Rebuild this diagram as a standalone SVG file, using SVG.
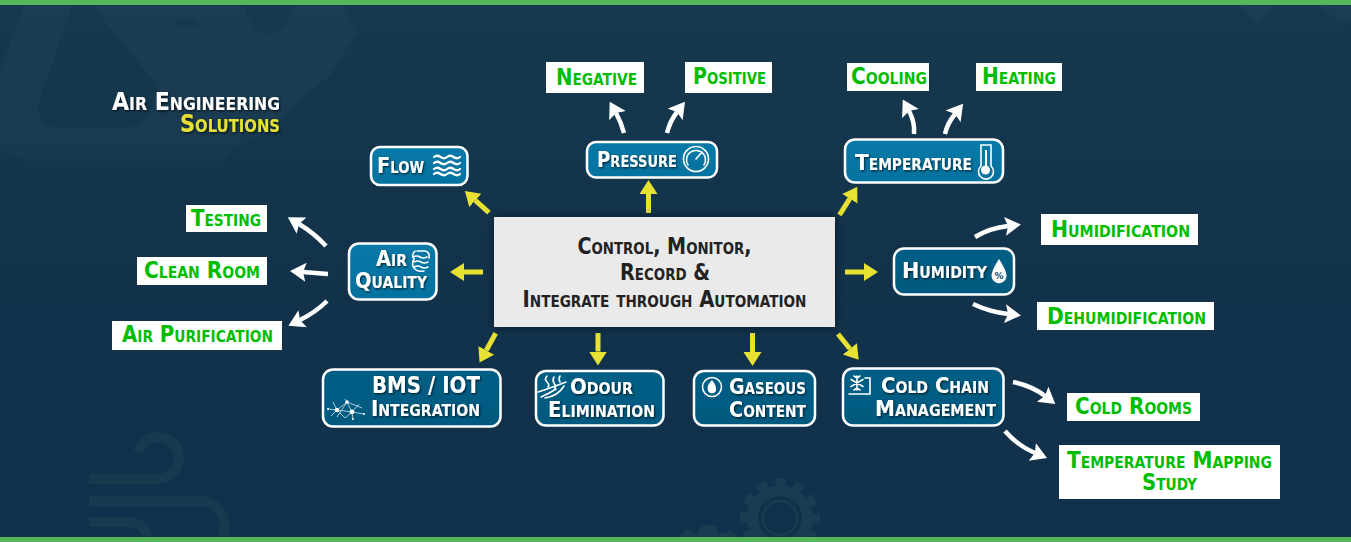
<svg xmlns="http://www.w3.org/2000/svg" width="1351" height="542" viewBox="0 0 1351 542">
<style>
text{font-family:"DejaVu Sans","Noto Sans",sans-serif;font-weight:700;font-variant:small-caps}
.n text{fill:#fff;font-size:21px;filter:url(#ts)}
.box{stroke:#fff;stroke-width:2.5}
.u{fill:url(#up)}.d{fill:url(#dn)}
.lab rect{fill:#fff}
.lab text{fill:#00bd00;font-size:23px}
.y{fill:none;stroke:#e6e132;stroke-width:5;marker-end:url(#hy)}
.w{fill:none;stroke:#fff;stroke-width:4.5;marker-end:url(#hw)}
.ic{fill:none;stroke:#fff;stroke-width:1.6;stroke-linecap:round}
.bg{fill:none;stroke:#19394f;stroke-width:10}
.fa{fill:#fff;fill-opacity:.022}
</style>
<defs>
<linearGradient id="bgg" x1="0" y1="0" x2="0" y2="1"><stop offset="0" stop-color="#16394d"/><stop offset=".45" stop-color="#13334b"/><stop offset="1" stop-color="#10304c"/></linearGradient>
<linearGradient id="up" x1="0" y1="0" x2="0" y2="1"><stop offset="0" stop-color="#0879a8"/><stop offset="1" stop-color="#04729f"/></linearGradient>
<linearGradient id="dn" x1="0" y1="0" x2="0" y2="1"><stop offset="0" stop-color="#005e85"/><stop offset="1" stop-color="#005a80"/></linearGradient>
<filter id="ts" x="-10%" y="-20%" width="120%" height="150%"><feDropShadow dx="1" dy="1.2" stdDeviation="0.8" flood-color="#000" flood-opacity="0.7"/></filter>
<filter id="bs" x="-10%" y="-15%" width="120%" height="130%"><feDropShadow dx="0" dy="0" stdDeviation="5" flood-color="#000" flood-opacity="0.55"/></filter>
<marker id="hy" markerUnits="userSpaceOnUse" markerWidth="16" markerHeight="20" refX="0" refY="9" orient="auto"><path d="M0 0L14 9L0 18Z" fill="#e6e132"/></marker>
<marker id="hw" markerUnits="userSpaceOnUse" markerWidth="18" markerHeight="20" refX="3" refY="9.5" orient="auto"><path d="M0 0L16 9.500L0 19L3 9.500Z" fill="#fff"/></marker>
</defs>
<rect width="1351" height="542" fill="url(#bgg)"/>
<g id="background">
<path class="fa" fill-rule="evenodd" d="M25 5L0 70V150L30 161H225L232 150L270 130L300 100L330 75L358 32L342 5ZM72 5L38 105Q38 128 62 128H125Q155 125 157 85Q120 40 92 5ZM245 5Q250 33 268 34Q290 30 292 5ZM172 22Q190 32 198 24L190 17Z"/>
<path class="fa" d="M1238 5L1256 24L1275 5ZM1320 5Q1335 22 1351 23V5Z"/>
<path class="bg" d="M138 452A21 21 0 1 1 158 479H89M89 501H197A25 25 0 0 1 222 537M89 522H130Q145 524 148 537"/>
<circle cx="780" cy="518" r="33" fill="#1b3b51"/>
<circle cx="780" cy="518" r="35.500" fill="none" stroke="#1b3b51" stroke-width="9" stroke-dasharray="10.500 8.100" stroke-dashoffset="5"/>
<circle cx="780" cy="518" r="22" fill="#11314b"/><circle cx="780" cy="518" r="17" fill="none" stroke="#1b3b51" stroke-width="2.500"/>
<path d="M678 537L688 529L697 535L702 525H716L719 534L731 531L740 537Z" fill="#1b3b51"/>
</g>
<rect width="1351" height="5" fill="#57b55c"/><rect y="537" width="1351" height="5" fill="#57b55c"/>
<g id="connectors">
<path class="y" d="M489 212.700L475.300 200.400"/>
<path class="y" d="M648.500 213V194"/>
<path class="y" d="M483 272H464"/>
<path class="y" d="M839.500 215L849.800 198.700"/>
<path class="y" d="M845 272H864"/>
<path class="y" d="M495.700 333.300L486.300 350.300"/>
<path class="y" d="M598 333V351.500"/>
<path class="y" d="M752.500 333V352"/>
<path class="y" d="M838 334L849.900 348.800"/>
<path class="w" d="M624 133Q621 122 616 113"/>
<path class="w" d="M667 133Q670 121 677 112"/>
<path class="w" d="M914 134Q915 122 909 111"/>
<path class="w" d="M945 134Q947 124 955 114"/>
<path class="w" d="M326 246Q314 233 299 224"/>
<path class="w" d="M328 274L303 272"/>
<path class="w" d="M327 301Q316 312 300 320"/>
<path class="w" d="M975 237Q990 228 1008 226"/>
<path class="w" d="M973 304Q990 312 1008 314"/>
<path class="w" d="M1013 382Q1032 386 1045 396"/>
<path class="w" d="M1005 431Q1018 446 1035 453"/>
</g>
<g id="title"><text x="112" y="109.500" font-size="24" fill="#fff" textLength="168" lengthAdjust="spacingAndGlyphs" filter="url(#ts)">Air Engineering</text><text x="180" y="131.700" font-size="24" fill="#e6e132" textLength="100" lengthAdjust="spacingAndGlyphs" filter="url(#ts)">Solutions</text></g>
<g id="center"><rect x="494" y="217" width="341" height="110" fill="#eaeaea" filter="url(#bs)"/><g fill="#222" font-size="23"><text x="577.500" y="254.300" textLength="174" lengthAdjust="spacingAndGlyphs">Control, Monitor,</text><text x="620" y="280.300" textLength="90" lengthAdjust="spacingAndGlyphs">Record &amp;</text><text x="522.500" y="306.800" textLength="284" lengthAdjust="spacingAndGlyphs">Integrate through Automation</text></g></g>
<g id="flow" class="n"><rect class="box u" x="371" y="147" width="96.500" height="38" rx="9"/><text x="377" y="173" style="font-size:22px" textLength="47" lengthAdjust="spacingAndGlyphs">Flow</text><path class="ic" style="stroke-width:2.200" d="M434 157q3-2.500 6.500 0t6.500 0t6.500 0t6.500 0M434 163q3-2.500 6.500 0t6.500 0t6.500 0t6.500 0M434 169q3-2.500 6.500 0t6.500 0t6.500 0t6.500 0M434 174q3-2.500 6.500 0t6.500 0t6.500 0t6.500 0"/></g>
<g id="pressure" class="n"><rect class="box u" x="587" y="142" width="130" height="35.500" rx="9"/><text x="597" y="167" textLength="80" lengthAdjust="spacingAndGlyphs">Pressure</text><circle class="ic" cx="696" cy="159" r="12.500"/><path class="ic" d="M688 165A9.500 9.500 0 1 1 704 165M696 159L702 152"/></g>
<g id="temperature" class="n"><rect class="box u" x="845" y="139.500" width="158" height="43" rx="10"/><text x="855" y="170" style="font-size:22px" textLength="117" lengthAdjust="spacingAndGlyphs">Temperature</text><path class="ic" d="M981 145H991V166A7.500 7.500 0 1 1 981 166Z"/><circle cx="985.500" cy="170" r="4.500" fill="#fff"/><path d="M986 150V168" stroke="#fff" stroke-width="2"/></g>
<g id="air-quality" class="n"><rect class="box u" x="349" y="243.500" width="87.500" height="56" rx="10"/><text x="376" y="266" textLength="31" lengthAdjust="spacingAndGlyphs">Air</text><text x="355" y="288" textLength="72" lengthAdjust="spacingAndGlyphs">Quality</text><path class="ic" d="M417 251H425Q430 252 429 258M413 257q4-2 7 0t7 0M414 262q4-2 7 0t7 0M414 267q4-2 7 0t7 0M415 251Q411 255 414 259Q411 264 414 268Q417 272 424 271"/></g>
<g id="humidity" class="n"><rect class="box d" x="894" y="248.500" width="120" height="46" rx="10"/><text x="902" y="278" style="font-size:22px" textLength="85" lengthAdjust="spacingAndGlyphs">Humidity</text><path d="M999 259Q993 268 992 273A7.500 7.500 0 1 0 1006 273Q1005 268 999 259Z" fill="#fff"/><text x="999" y="279" text-anchor="middle" style="font-size:9px;fill:#0a4a6c;filter:none">%</text></g>
<g id="bms" class="n"><rect class="box d" x="323" y="369.500" width="177.500" height="57" rx="10"/><text x="372" y="393" style="font-size:23px" textLength="108" lengthAdjust="spacingAndGlyphs">BMS / IOT</text><text x="371" y="416" textLength="109" lengthAdjust="spacingAndGlyphs">Integration</text><path d="M328 409L337 410L347 402L352 412L364 414M337 410L352 412L345 418M347 402L362 408M333 402L337 410L331 416M352 412L353 419M345 399L347 402M347 402L337 417M352 412L359 404M337 410L345 418" fill="none" stroke="#d5e6ee" stroke-width="0.800"/><g fill="#fff"><circle cx="337" cy="410" r="2.200"/><circle cx="347" cy="402" r="1.800"/><circle cx="352" cy="412" r="2.400"/><circle cx="328" cy="409" r="1"/><circle cx="364" cy="414" r="1"/><circle cx="353" cy="419" r="1"/></g></g>
<g id="odour" class="n"><rect class="box d" x="536" y="371" width="127.500" height="54.500" rx="10"/><text x="570" y="394" textLength="63" lengthAdjust="spacingAndGlyphs">Odour</text><text x="548" y="417" textLength="107" lengthAdjust="spacingAndGlyphs">Elimination</text><path class="ic" d="M547 376q-3 3 0 6t1 5M554 377q-2 3 0 6t1 5M560 376q-2 3 0 6M538 392Q548 389 566 382M541 397Q550 393 556 389M545 398Q558 396 564 386"/></g>
<g id="gaseous" class="n"><rect class="box d" x="694" y="371" width="121" height="54.500" rx="10"/><text x="729" y="394" textLength="77" lengthAdjust="spacingAndGlyphs">Gaseous</text><text x="729" y="417" textLength="77" lengthAdjust="spacingAndGlyphs">Content</text><circle class="ic" cx="712" cy="387" r="9.500"/><path d="M712 380Q706 386 708 391A4.500 4.500 0 0 0 716 391Q717 386 712 380Z" fill="#fff"/></g>
<g id="cold-chain" class="n"><rect class="box d" x="843" y="368.500" width="160.500" height="57" rx="10"/><text x="881" y="393.300" textLength="108" lengthAdjust="spacingAndGlyphs">Cold Chain</text><text x="875" y="415.700" textLength="121" lengthAdjust="spacingAndGlyphs">Management</text><path class="ic" d="M857 376V390M851 379.500L863 386.500M863 379.500L851 386.500M854 376L857 378L860 376M854 390L857 388L860 390"/><path class="ic" d="M865 378H870V394H849"/></g>
<g class="lab">
<g id="negative"><rect x="546" y="62" width="98" height="31"/><text x="556" y="85" textLength="81" lengthAdjust="spacingAndGlyphs">Negative</text></g>
<g id="positive"><rect x="685" y="62" width="87" height="31"/><text x="693" y="84" textLength="73" lengthAdjust="spacingAndGlyphs">Positive</text></g>
<g id="cooling"><rect x="847" y="63" width="82" height="28"/><text x="851" y="84" textLength="76" lengthAdjust="spacingAndGlyphs">Cooling</text></g>
<g id="heating"><rect x="976" y="63" width="86" height="28"/><text x="982" y="84" textLength="74" lengthAdjust="spacingAndGlyphs">Heating</text></g>
<g id="testing"><rect x="186" y="205" width="81" height="27"/><text x="191" y="226" textLength="70" lengthAdjust="spacingAndGlyphs">Testing</text></g>
<g id="clean-room"><rect x="137" y="257" width="130" height="28"/><text x="144" y="278" textLength="116" lengthAdjust="spacingAndGlyphs">Clean Room</text></g>
<g id="air-purification"><rect x="112" y="321" width="170" height="29"/><text x="122" y="342" textLength="151" lengthAdjust="spacingAndGlyphs">Air Purification</text></g>
<g id="humidification"><rect x="1041" y="214" width="157" height="31"/><text x="1051" y="237" textLength="139" lengthAdjust="spacingAndGlyphs">Humidification</text></g>
<g id="dehumidification"><rect x="1037" y="302" width="177" height="28"/><text x="1047" y="324" textLength="159" lengthAdjust="spacingAndGlyphs">Dehumidification</text></g>
<g id="cold-rooms"><rect x="1067" y="393" width="133" height="28"/><text x="1075" y="414" textLength="117" lengthAdjust="spacingAndGlyphs">Cold Rooms</text></g>
<g id="temperature-mapping"><rect x="1059" y="445" width="221" height="54"/><text x="1067" y="468" textLength="205" lengthAdjust="spacingAndGlyphs">Temperature Mapping</text><text x="1142" y="490" textLength="55" lengthAdjust="spacingAndGlyphs">Study</text></g>
</g>
</svg>
